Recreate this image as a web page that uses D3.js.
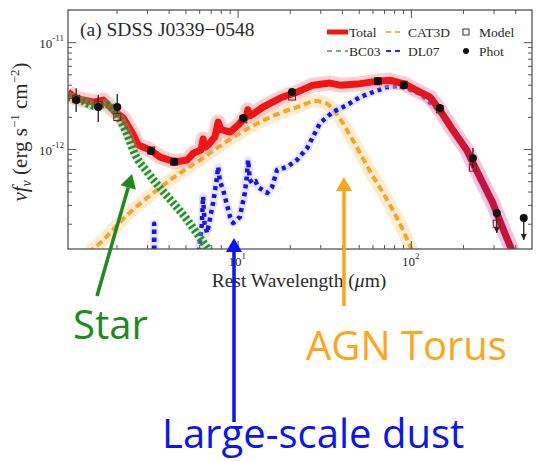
<!DOCTYPE html>
<html>
<head>
<meta charset="utf-8">
<script src="https://cdn.jsdelivr.net/npm/d3@7"></script>
<style>
  body { margin: 0; background: #fff; }
  text { font-family: "Liberation Serif", "DejaVu Serif", serif; fill: #2a2a2a; }
  .note { font-family: "Open Sans", "Noto Sans", sans-serif; }
</style>
</head>
<body>
<svg width="542" height="462"></svg>
<script>
// fluxes in units of 1e-12 erg s^-1 cm^-2, wavelengths in micron (rest frame)
var totalWave = [1.05, 1.16, 1.47, 1.68, 1.92, 2.19, 2.47, 2.67, 3.13, 3.57, 4.36, 5.12, 5.57, 6.15, 6.32, 6.5, 6.76, 7.4, 7.72, 8.0, 8.25, 9.05, 10.1, 10.9, 11.25, 11.45, 11.8, 12.4, 14.0, 17.6, 22.0, 27.2, 34.1, 39.0, 48.8, 64.5, 75.7, 92.3, 113, 129, 147, 175, 210, 250, 297, 348, 382, 420];
var totalFlux = [3.41, 3.0, 2.75, 2.87, 2.31, 1.95, 1.41, 1.09, 0.98, 0.84, 0.756, 0.79, 0.92, 0.98, 1.24, 1.04, 1.09, 1.3, 1.79, 1.52, 1.5, 1.44, 1.68, 1.95, 2.0, 2.33, 2.05, 2.15, 2.47, 3.0, 3.41, 3.96, 4.14, 3.96, 4.05, 4.32, 4.41, 4.05, 3.41, 3.06, 2.31, 1.5, 0.98, 0.547, 0.313, 0.164, 0.114, 0.07];

var torusWave = [1.2, 1.41, 1.61, 2.31, 3.26, 4.66, 6.08, 7.93, 10.3, 13.5, 17.6, 22.9, 28.0, 31.9, 35.5, 40.0, 44.5, 58.0, 75.7, 89.9, 101, 113];
var torusFlux = [0.07, 0.109, 0.132, 0.242, 0.388, 0.597, 0.79, 1.07, 1.41, 1.79, 2.17, 2.52, 2.81, 2.72, 2.35, 1.8, 1.35, 0.623, 0.3, 0.175, 0.114, 0.07];

var starWave = [1.05, 1.24, 1.51, 1.72, 1.97, 2.25, 2.57, 3.01, 3.57, 4.25, 5.12, 6.08, 6.94, 7.93];
var starFlux = [3.06, 2.87, 2.52, 2.63, 2.22, 1.5, 0.88, 0.61, 0.432, 0.313, 0.217, 0.147, 0.109, 0.08];

var dustWave = [3.2, 3.28, 3.3, 3.32, 3.4, 5.69, 6.08, 6.22, 6.32, 6.45, 6.67, 7.22, 7.55, 7.72, 7.9, 8.25, 9.05, 9.42, 10.3, 11.0, 11.3, 11.5, 11.75, 12.1, 12.7, 13.1, 14.8, 15.8, 16.9, 19.3, 22.0, 25.2, 29.9, 35.5, 42.8, 50.8, 60.4, 72.7, 86.4, 113, 147, 210, 297, 382, 450];
var dustFlux = [0.05, 0.05, 0.2, 0.05, 0.05, 0.06, 0.14, 0.2, 0.36, 0.2, 0.164, 0.313, 0.5, 0.68, 0.5, 0.414, 0.231, 0.203, 0.231, 0.388, 0.55, 0.79, 0.52, 0.481, 0.5, 0.441, 0.388, 0.441, 0.637, 0.679, 0.79, 1.02, 1.75, 2.22, 2.58, 3.06, 3.41, 3.8, 3.88, 3.3, 2.25, 0.95, 0.3, 0.11, 0.05];

var photWave = [1.17, 1.57, 2.02, 3.17, 4.30, 10.8, 20.6, 64.5, 91, 147, 228, 313, 448];
var photFlux = [2.87, 2.47, 2.47, 0.96, 0.76, 1.95, 3.41, 4.32, 3.96, 2.42, 0.82, 0.252, 0.226];
var photLo = [2.22, 1.79, 2.17, null, null, null, null, null, null, null, 0.665, 0.164, 0.141];
var photHi = [3.71, 3.2, 3.27, null, null, null, null, null, null, null, 1.02, 0.27, null];
var photArrow = [0, 0, 0, 0, 0, 0, 0, 0, 0, 0, 0, 1, 1];
var modelFlux = [2.95, 2.6, 1.99, 0.97, 0.76, 1.9, 3.1, 4.3, 4.0, 2.35, 0.67, 0.2, null];

var xMinor = [2, 3, 4, 5, 6, 7, 8, 9, 20, 30, 40, 50, 60, 70, 80, 90, 200, 300, 400];
var xMajor = [10, 100];
var yMinor = [0.2, 0.3, 0.4, 0.5, 0.6, 0.7, 0.8, 0.9, 2, 3, 4, 5, 6, 7, 8, 9];
var yMajor = [1, 10];
var yMajorLabel = ["-12", "-11"];

var svg = d3.select("svg");
var plotL = 68, plotR = 532, plotT = 10, plotB = 249;

var x = d3.scaleLog().domain([1.05, 500]).range([plotL, plotR]);
var y = d3.scaleLog().domain([0.116, 20]).range([plotB, plotT]);

var defs = svg.append("defs");
defs.append("clipPath").attr("id", "plot")
    .append("rect").attr("x", plotL).attr("y", plotT).attr("width", plotR - plotL).attr("height", plotB - plotT);

function grad(id, c1, c2) {
    var g = defs.append("linearGradient").attr("id", id)
        .attr("gradientUnits", "userSpaceOnUse")
        .attr("x1", 400).attr("x2", 480).attr("y1", 0).attr("y2", 0);
    g.append("stop").attr("offset", 0).attr("stop-color", c1);
    g.append("stop").attr("offset", 1).attr("stop-color", c2);
}
grad("redGrad", "#f01414", "#c8123c");
grad("haloGrad", "#f6a0a0", "#de8cc4");

function pathOf(w, f, curve) {
    return d3.line()
        .x(function (d) { return x(d[0]); })
        .y(function (d) { return y(d[1]); })
        .curve(curve)(d3.zip(w, f));
}

var curves = svg.append("g").attr("clip-path", "url(#plot)");

function draw(w, f, curve, stroke, width, opacity, dash) {
    curves.append("path")
        .attr("d", pathOf(w, f, curve))
        .attr("fill", "none")
        .attr("stroke", stroke)
        .attr("stroke-width", width)
        .attr("stroke-opacity", opacity)
        .attr("stroke-dasharray", dash)
        .attr("stroke-linejoin", "round");
}

var smooth = d3.curveMonotoneX, sharp = d3.curveLinear;
// torus
draw(torusWave, torusFlux, smooth, "#fcd49a", 13, 0.45, null);
draw(torusWave, torusFlux, smooth, "#f4a52a", 4, 1, "7,4");
// large-scale dust
draw(dustWave, dustFlux, sharp, "#b4b4ff", 8, 0.35, null);
draw(dustWave, dustFlux, sharp, "#1414f0", 4.5, 1, "4,4");
// total
draw(totalWave, totalFlux, sharp, "url(#haloGrad)", 15, 0.5, null);
draw(totalWave, totalFlux, sharp, "url(#redGrad)", 7, 1, null);
// stars
draw(starWave, starFlux, smooth, "#9fd49f", 10, 0.3, null);
draw(starWave, starFlux, smooth, "#2b8a2b", 8, 1, "2.5,2.5");

// photometry
var pts = svg.append("g");
photWave.forEach(function (w, i) {
    var px = x(w);
    if (photLo[i] !== null) {
        var hi = photHi[i] !== null ? photHi[i] : photFlux[i];
        pts.append("line").attr("x1", px).attr("x2", px)
            .attr("y1", y(hi)).attr("y2", y(photLo[i]))
            .attr("stroke", "#222").attr("stroke-width", 1.3);
        if (photArrow[i]) {
            var yl = y(photLo[i]);
            pts.append("path")
                .attr("d", "M" + (px - 3) + "," + (yl - 6) + "L" + (px + 3) + "," + (yl - 6) + "L" + px + "," + yl + "Z")
                .attr("fill", "#222");
        }
    }
    if (modelFlux[i] !== null) {
        pts.append("rect").attr("x", px - 3.5).attr("y", y(modelFlux[i]) - 3.5)
            .attr("width", 7).attr("height", 7)
            .attr("fill", "none").attr("stroke", "#7a1a1a").attr("stroke-width", 1);
    }
    pts.append("circle").attr("cx", px).attr("cy", y(photFlux[i])).attr("r", 4).attr("fill", "#111");
});

// axes (ticks point inward)
function tidy(g) {
    g.select(".domain").remove();
    g.selectAll("line").attr("stroke", "#555").attr("stroke-width", 1);
}
svg.append("g").attr("transform", "translate(0," + plotB + ")")
    .call(d3.axisBottom(x).tickValues(xMinor).tickSize(-4).tickFormat("")).call(tidy);
svg.append("g").attr("transform", "translate(0," + plotB + ")")
    .call(d3.axisBottom(x).tickValues(xMajor).tickSize(-8).tickFormat("")).call(tidy);
svg.append("g").attr("transform", "translate(0," + plotT + ")")
    .call(d3.axisTop(x).tickValues(xMinor).tickSize(-4).tickFormat("")).call(tidy);
svg.append("g").attr("transform", "translate(0," + plotT + ")")
    .call(d3.axisTop(x).tickValues(xMajor).tickSize(-8).tickFormat("")).call(tidy);
svg.append("g").attr("transform", "translate(" + plotL + ",0)")
    .call(d3.axisLeft(y).tickValues(yMinor).tickSize(-4).tickFormat("")).call(tidy);
svg.append("g").attr("transform", "translate(" + plotL + ",0)")
    .call(d3.axisLeft(y).tickValues(yMajor).tickSize(-8).tickFormat("")).call(tidy);
svg.append("g").attr("transform", "translate(" + plotR + ",0)")
    .call(d3.axisRight(y).tickValues(yMinor).tickSize(-4).tickFormat("")).call(tidy);
svg.append("g").attr("transform", "translate(" + plotR + ",0)")
    .call(d3.axisRight(y).tickValues(yMajor).tickSize(-8).tickFormat("")).call(tidy);

svg.append("rect").attr("x", plotL).attr("y", plotT)
    .attr("width", plotR - plotL).attr("height", plotB - plotT)
    .attr("fill", "none").attr("stroke", "#555").attr("stroke-width", 1.3);

// tick labels
xMajor.forEach(function (v) {
    var t = svg.append("text").attr("x", x(v) - 9).attr("y", plotB + 17).attr("font-size", 13);
    t.append("tspan").text("10");
    t.append("tspan").attr("dy", -7).attr("font-size", 9).text(Math.round(Math.log10(v)));
});
yMajor.forEach(function (v, i) {
    var t = svg.append("text").attr("x", plotL - 4).attr("y", y(v) + 6)
        .attr("text-anchor", "end").attr("font-size", 13);
    t.append("tspan").text("10");
    t.append("tspan").attr("dy", -7).attr("font-size", 9).text(yMajorLabel[i]);
});

// axis titles
svg.append("text").attr("x", 299).attr("y", 287).attr("text-anchor", "middle")
    .attr("font-size", 19.5)
    .html('Rest Wavelength (<tspan font-style="italic">\u03bc</tspan>m)');

var yt = svg.append("text").attr("transform", "translate(27,132) rotate(-90)")
    .attr("text-anchor", "middle").attr("font-size", 21);
yt.append("tspan").attr("font-style", "italic").text("\u03bdf");
yt.append("tspan").attr("font-style", "italic").attr("font-size", 14).attr("dy", 4).text("\u03bd");
yt.append("tspan").attr("dy", -4).text(" (erg s");
yt.append("tspan").attr("font-size", 13).attr("dy", -8).text("\u22121");
yt.append("tspan").attr("dy", 8).text(" cm");
yt.append("tspan").attr("font-size", 13).attr("dy", -8).text("\u22122");
yt.append("tspan").attr("dy", 8).text(")");

// title
svg.append("text").attr("x", 80).attr("y", 36).attr("font-size", 19.5).text("(a) SDSS J0339\u22120548");

// legend
var lg = svg.append("g").attr("font-size", 13.5);
lg.append("line").attr("x1", 327).attr("x2", 348).attr("y1", 32).attr("y2", 32)
    .attr("stroke", "#f01414").attr("stroke-width", 5);
lg.append("text").attr("x", 349).attr("y", 37).text("Total");
lg.append("line").attr("x1", 386).attr("x2", 404).attr("y1", 32).attr("y2", 32)
    .attr("stroke", "#f4b040").attr("stroke-width", 1.8).attr("stroke-dasharray", "5,4");
lg.append("text").attr("x", 408).attr("y", 37).text("CAT3D");
lg.append("rect").attr("x", 463).attr("y", 29).attr("width", 6).attr("height", 6)
    .attr("fill", "none").attr("stroke", "#333").attr("stroke-width", 1);
lg.append("text").attr("x", 479).attr("y", 37).text("Model");
lg.append("line").attr("x1", 327).attr("x2", 348).attr("y1", 51).attr("y2", 51)
    .attr("stroke", "#3a9a3a").attr("stroke-width", 1.5).attr("stroke-dasharray", "5,4");
lg.append("text").attr("x", 349).attr("y", 56).text("BC03");
lg.append("line").attr("x1", 386).attr("x2", 404).attr("y1", 51).attr("y2", 51)
    .attr("stroke", "#2a2af0").attr("stroke-width", 1.8).attr("stroke-dasharray", "5,4");
lg.append("text").attr("x", 408).attr("y", 56).text("DL07");
lg.append("circle").attr("cx", 466).attr("cy", 51).attr("r", 3).attr("fill", "#111");
lg.append("text").attr("x", 479).attr("y", 56).text("Phot");

// annotations: arrow tip anchored on the chart, tail + label below it
var notes = [
    { label: "Star", color: "#1d8a1d", tipW: 2.46, tipF: 0.583, tail: [97, 296], tx: 73, ty: 339 },
    { label: "Large-scale dust", color: "#0a14f5", tipW: 9.53, tipF: 0.147, tail: [234, 422], tx: 162, ty: 448 },
    { label: "AGN Torus", color: "#ffa519", tipW: 41.1, tipF: 0.547, tail: [344, 306], tx: 306, ty: 360 }
];
notes.forEach(function (n) {
    var x2 = x(n.tipW), y2 = y(n.tipF), x1 = n.tail[0], y1 = n.tail[1];
    var dx = x2 - x1, dy = y2 - y1, len = Math.sqrt(dx * dx + dy * dy);
    var ux = dx / len, uy = dy / len, head = 14, half = 8;
    var bx = x2 - ux * head, by = y2 - uy * head;
    svg.append("line").attr("x1", x1).attr("y1", y1).attr("x2", bx).attr("y2", by)
        .attr("stroke", n.color).attr("stroke-width", 3.5);
    svg.append("path")
        .attr("d", "M" + x2 + "," + y2 +
            "L" + (bx - uy * half) + "," + (by + ux * half) +
            "L" + (bx + uy * half) + "," + (by - ux * half) + "Z")
        .attr("fill", n.color);
    svg.append("text").attr("class", "note").attr("x", n.tx).attr("y", n.ty)
        .attr("font-size", 40).style("fill", n.color).text(n.label);
});
</script>
</body>
</html>
